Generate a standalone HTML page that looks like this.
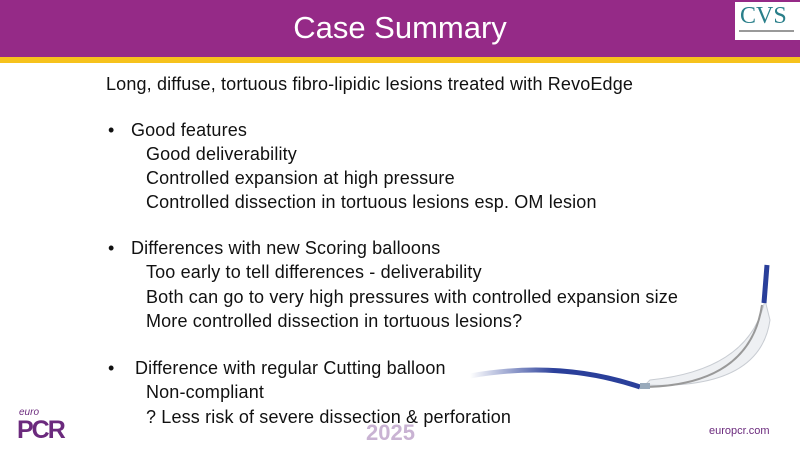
<!DOCTYPE html>
<html><head><meta charset="utf-8"><style>
body{margin:0;width:800px;height:450px;overflow:hidden;background:#fff;position:relative;font-family:"Liberation Sans",sans-serif;}
.hdr{position:absolute;left:0;top:0;width:800px;height:57px;background:#952a87;}
.yl{position:absolute;left:0;top:57px;width:800px;height:6px;background:#f6c21c;}
.title{position:absolute;left:0;width:800px;top:10px;text-align:center;color:#fff;font-size:31px;}
.logo{position:absolute;left:735px;top:2px;width:65px;height:38px;background:#fff;}
.t{position:absolute;font-size:18px;color:#111;white-space:nowrap;letter-spacing:0.15px;}
</style></head><body>
<div class="hdr"></div><div class="yl"></div>
<div class="title">Case Summary</div>
<div class="logo"><div style="font-family:'Liberation Serif',serif;color:#2a7f8a;font-size:24px;position:absolute;left:5px;top:1px;">CVS</div><div style="position:absolute;left:4px;top:28px;width:55px;height:2px;background:#999"></div></div>
<div class="t" style="left:106px;top:74px">Long, diffuse, tortuous fibro-lipidic lesions treated with RevoEdge</div>
<div class="t" style="left:108px;top:120px">•</div><div class="t" style="left:131px;top:120px">Good features</div>
<div class="t" style="left:146px;top:144px">Good deliverability</div>
<div class="t" style="left:146px;top:168px">Controlled expansion at high pressure</div>
<div class="t" style="left:146px;top:192px">Controlled dissection in tortuous lesions esp. OM lesion</div>
<div class="t" style="left:108px;top:238px">•</div><div class="t" style="left:131px;top:238px">Differences with new Scoring balloons</div>
<div class="t" style="left:146px;top:262px">Too early to tell differences - deliverability</div>
<div class="t" style="left:146px;top:287px">Both can go to very high pressures with controlled expansion size</div>
<div class="t" style="left:146px;top:311px">More controlled dissection in tortuous lesions?</div>
<div class="t" style="left:108px;top:358px">•</div><div class="t" style="left:135px;top:358px">Difference with regular Cutting balloon</div>
<div class="t" style="left:146px;top:382px">Non-compliant</div>
<div class="t" style="left:146px;top:407px">? Less risk of severe dissection &amp; perforation</div>
<div style="position:absolute;left:366px;top:420px;font-size:22px;color:#c9b3d3;font-weight:bold">2025</div>
<div style="position:absolute;left:19px;top:407px;font-size:10px;color:#6b2a7d;font-style:italic">euro</div>
<div style="position:absolute;left:17px;top:416px;font-size:25px;color:#6b2a7d;font-weight:bold;letter-spacing:-2px">PCR</div>
<div style="position:absolute;left:709px;top:425px;font-size:11px;color:#6b2a7d">europcr.com</div>
<svg style="position:absolute;left:0;top:0" width="800" height="450">
<defs><linearGradient id="g" x1="0" x2="1"><stop offset="0" stop-color="#2a3f9a" stop-opacity="0"/><stop offset="0.5" stop-color="#2a3f9a"/></linearGradient></defs>
<path d="M470 376 Q560 360 640 387" stroke="url(#g)" stroke-width="5" fill="none"/>
<path d="M645 385 Q760 390 770 320 L765 300 Q750 370 650 380 Z" fill="#eef0f3" stroke="#c8ccd2" stroke-width="1"/>
<path d="M645 387 Q750 385 762 305" stroke="#999" stroke-width="2" fill="none"/>
<rect x="640" y="383" width="10" height="6" fill="#9ab"/>
<path d="M764 303 L767 265" stroke="#2a3f9a" stroke-width="5"/>
</svg>
</body></html>
